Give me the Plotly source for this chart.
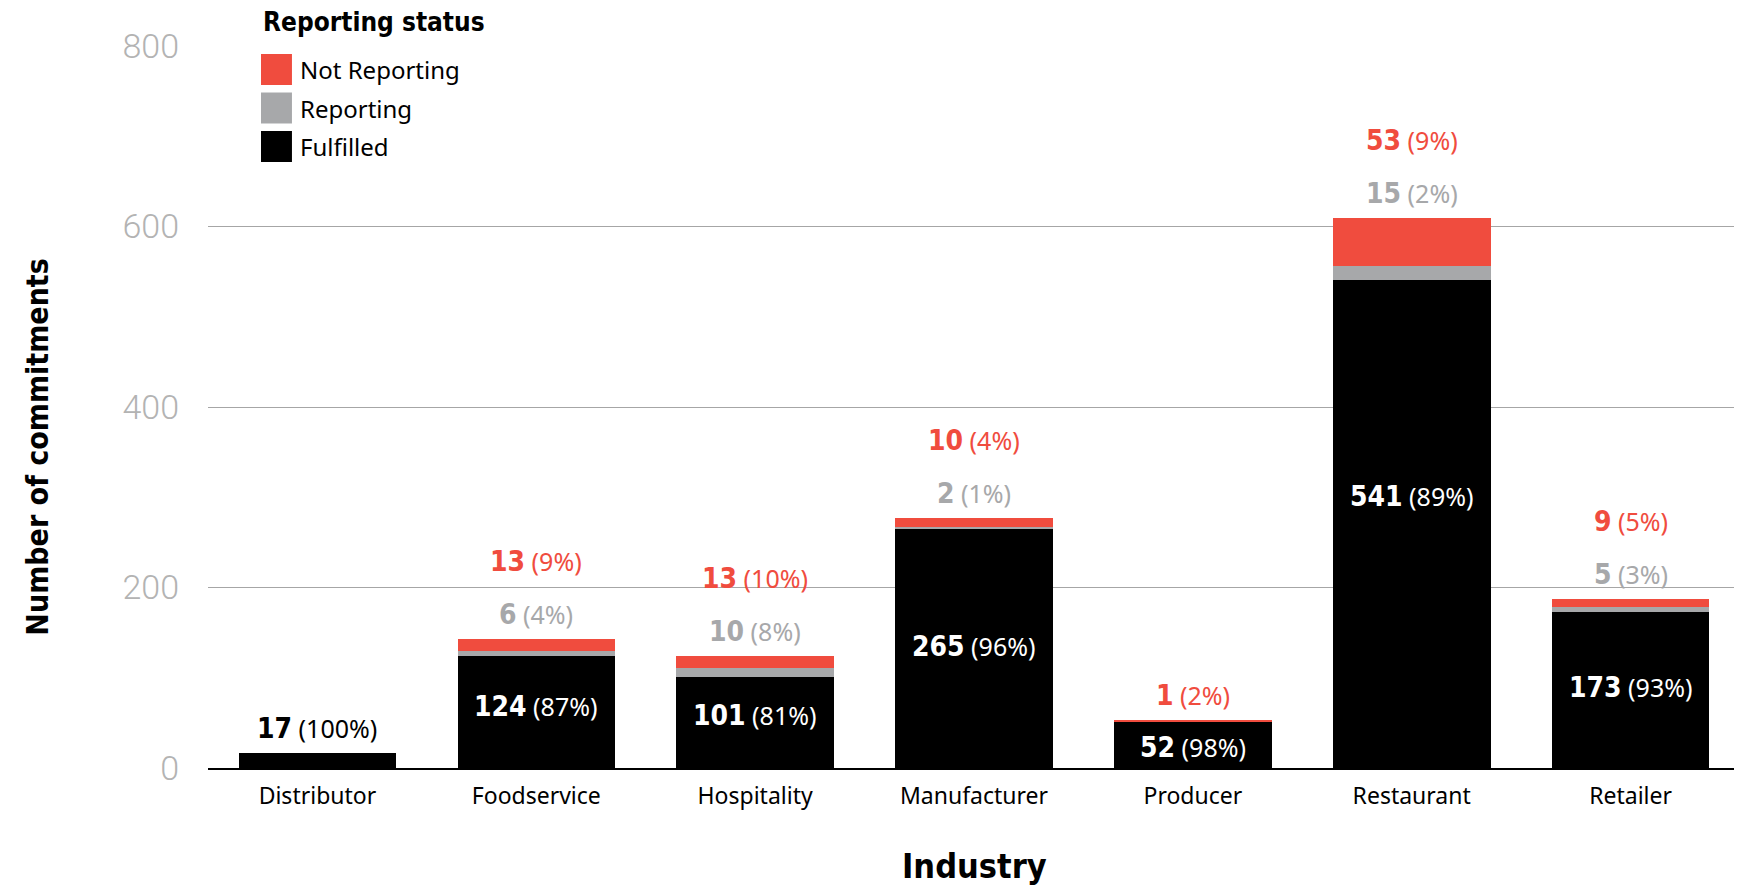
import plotly.graph_objects as go

categories = ["Distributor", "Foodservice", "Hospitality", "Manufacturer", "Producer", "Restaurant", "Retailer"]
fulfilled = [17, 124, 101, 265, 52, 541, 173]
reporting = [0, 6, 10, 2, 0, 15, 5]
not_reporting = [0, 13, 13, 10, 1, 53, 9]
y_ticks = [0, 200, 400, 600, 800]

RED = "#F04C3E"
GRAY = "#A7A8AA"
BLACK = "#000000"
COND = "font-family:DejaVu Sans;font-stretch:condensed;font-weight:bold"
REG_FONT = "Noto Sans, Lato, sans-serif"

series = [("Fulfilled", fulfilled, BLACK), ("Reporting", reporting, GRAY), ("Not Reporting", not_reporting, RED)]

fig = go.Figure()
for name, vals, col in series:
    fig.add_trace(go.Bar(x=categories, y=vals, name=name, marker=dict(color=col, line=dict(width=0)),
                         showlegend=False, hoverinfo="skip"))


def cond(text, size):
    return f"<span style='{COND};font-size:{size}px'>{text}</span>"


def label(v, p):
    return cond(v, 28) + f" <span style='font-size:25px'>({p}%)</span>"


annotations = []
for i, c in enumerate(categories):
    total = fulfilled[i] + reporting[i] + not_reporting[i]
    pf = round(100 * fulfilled[i] / total)
    above = []
    if fulfilled[i] < total:
        annotations.append(dict(x=c, y=total / 2, xref="x", yref="y", text=label(fulfilled[i], pf),
                                showarrow=False, font=dict(family=REG_FONT, size=25, color="white"),
                                yanchor="middle", yshift=-3))
    else:
        above.append((fulfilled[i], pf, BLACK))
    if reporting[i] > 0:
        above.append((reporting[i], round(100 * reporting[i] / total), GRAY))
    if not_reporting[i] > 0:
        above.append((not_reporting[i], round(100 * not_reporting[i] / total), RED))
    for k, (v, p, col) in enumerate(above):
        annotations.append(dict(x=c, y=total, xref="x", yref="y", text=label(v, p),
                                showarrow=False, font=dict(family=REG_FONT, size=25, color=col),
                                yanchor="middle", yshift=25 + 53 * k))

# axis titles
annotations.append(dict(x=0.5, y=-0.166, xref="paper", yref="paper", text=cond("Industry", 34), showarrow=False,
                        font=dict(family=REG_FONT, size=34, color=BLACK), yanchor="bottom"))
annotations.append(dict(x=-0.111, y=0.445, xref="paper", yref="paper", text=cond("Number of commitments", 30),
                        showarrow=False, textangle=-90, font=dict(family=REG_FONT, size=30, color=BLACK),
                        xanchor="center", yanchor="middle"))

# legend (manual)
annotations.append(dict(x=0.0346, y=1.033, xref="paper", yref="paper", text=cond("Reporting status", 26),
                        showarrow=False, font=dict(family=REG_FONT, size=26, color=BLACK),
                        xanchor="left", yanchor="middle"))
shapes = []
legend_items = [("Not Reporting", RED), ("Reporting", GRAY), ("Fulfilled", BLACK)]
for k, (name, col) in enumerate(legend_items):
    top = 54 + 38.5 * k
    y0 = (768 - top - 31) / 722
    y1 = (768 - top) / 722
    shapes.append(dict(type="rect", xref="paper", yref="paper", x0=0.0346, x1=0.0548, y0=y0, y1=y1,
                       fillcolor=col, line=dict(width=0)))
    annotations.append(dict(x=0.0585, y=(y0 + y1) / 2, xref="paper", yref="paper", text=name, showarrow=False,
                            font=dict(family=REG_FONT, size=24, color=BLACK), xanchor="left", yanchor="middle"))

fig.update_layout(
    barmode="stack", bargap=0.28,
    width=1734, height=880,
    margin=dict(l=200, r=2, t=38, b=120),
    paper_bgcolor="white", plot_bgcolor="white",
    annotations=annotations, shapes=shapes,
    xaxis=dict(showline=True, linecolor=BLACK, linewidth=1.5, ticks="", showgrid=False,
               tickfont=dict(family=REG_FONT, size=23, color=BLACK), ticklabelstandoff=7),
    yaxis=dict(range=[0, 800], tickvals=y_ticks, showgrid=True, gridcolor="#A6A6A6", gridwidth=1,
               zeroline=False, showline=False, ticks="",
               tickfont=dict(family="Roboto, Lato, sans-serif", size=34, color="#B3B3B3", weight=300),
               ticklabelstandoff=28),
)

fig.write_html("out.html")
